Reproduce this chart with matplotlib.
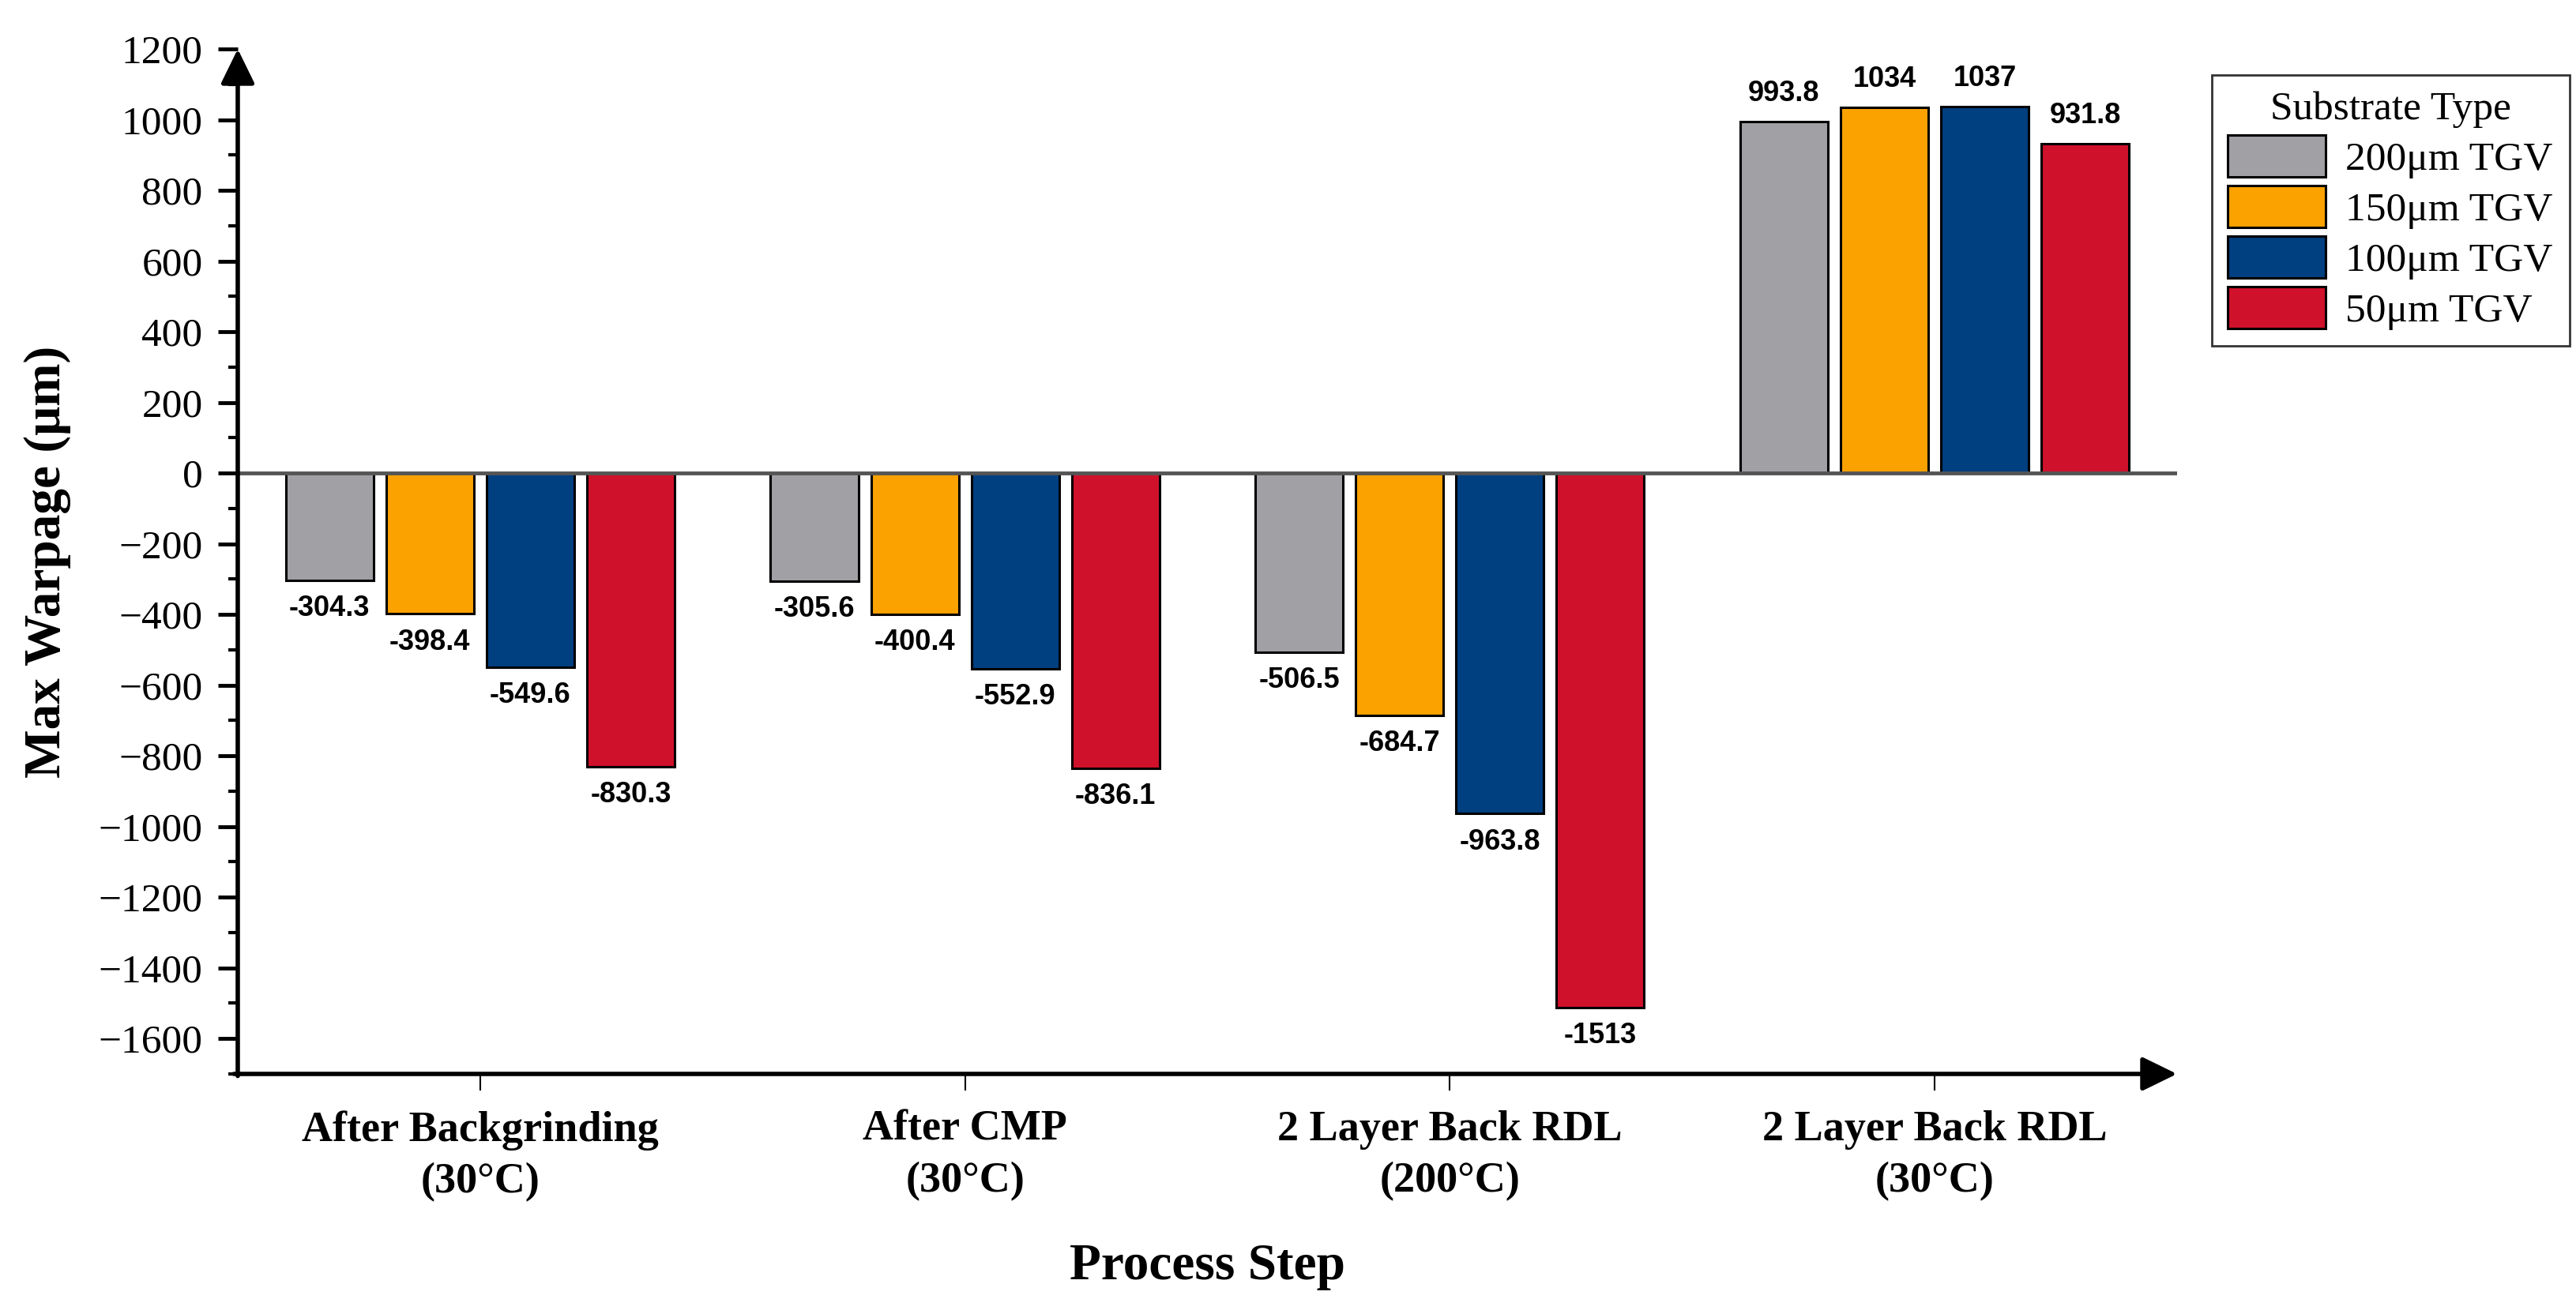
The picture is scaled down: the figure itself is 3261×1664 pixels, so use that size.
import numpy as np
import matplotlib
matplotlib.use('Agg')
from matplotlib import pyplot as plt
from matplotlib.ticker import MultipleLocator

# data
steps = ['After Backgrinding\n(30°C)', 'After CMP\n(30°C)',
         '2 Layer Back RDL\n(200°C)', '2 Layer Back RDL\n(30°C)']
substrates = ['200μm TGV', '150μm TGV', '100μm TGV', '50μm TGV']
tgv200 = [-304.3, -305.6, -506.5, 993.8]
tgv150 = [-398.4, -400.4, -684.7, 1034]
tgv100 = [-549.6, -552.9, -963.8, 1037]
tgv50 = [-830.3, -836.1, -1513, 931.8]
colors = ['#A1A1A5', '#FBA200', '#003F80', '#D0112B']

plt.rcParams['font.family'] = ['Liberation Serif', 'DejaVu Serif']

fig = plt.figure(figsize=(32.61, 16.64), dpi=100)
ax = fig.add_axes([0.0923, 0.1827, 0.7528, 0.780])

x = np.arange(len(steps))
step = 0.207
width = 0.181
series = [tgv200, tgv150, tgv100, tgv50]
for i, vals in enumerate(series):
    pos = x + (i - 1.5) * step
    ax.bar(pos, vals, width, color=colors[i], edgecolor='black',
           linewidth=2.2, label=substrates[i], zorder=2)
    for xp, v in zip(pos, vals):
        off = 13 if v > 0 else -13
        ax.annotate('{:g}'.format(v), (xp, v), xytext=(0, off),
                    textcoords='offset points', ha='center',
                    va='bottom' if v > 0 else 'top', fontsize=26,
                    fontweight='bold', family='Liberation Sans')

ax.axhline(0, color='#555555', lw=3.5, zorder=3)

ax.set_xlim(-0.5, 3.5)
ax.set_ylim(-1700, 1200)
ax.yaxis.set_major_locator(MultipleLocator(200))
ax.yaxis.set_minor_locator(MultipleLocator(100))
ax.set_xticks(x)
ax.set_xticklabels(steps, fontsize=39, fontweight='bold', linespacing=1.4)
ax.tick_params(axis='x', length=15, width=1.5, pad=18)
ax.tick_params(axis='y', which='major', length=18, width=3.5, labelsize=37, pad=14)
ax.tick_params(axis='y', which='minor', length=9, width=3)
ax.yaxis.get_major_ticks()[-1].tick1line.set_visible(False)
ax.yaxis.set_major_formatter(matplotlib.ticker.FuncFormatter(
    lambda v, p: '{:d}'.format(int(v)).replace('-', '\u2212')))

for s in ax.spines.values():
    s.set_visible(False)
arrow = dict(arrowstyle='-|>,head_length=0.45,head_width=0.22', lw=4,
             color='black', mutation_scale=60, shrinkA=0, shrinkB=0)
ax.annotate('', xy=(0, 1), xytext=(0, -0.002), xycoords='axes fraction',
            arrowprops=arrow, zorder=5)
ax.annotate('', xy=(1, 0), xytext=(-0.002, 0), xycoords='axes fraction',
            arrowprops=arrow, zorder=5)

ax.set_ylabel('Max Warpage (μm)', fontsize=47, fontweight='bold')
ax.yaxis.set_label_coords(-0.086, 0.5)
ax.set_xlabel('Process Step', fontsize=47, fontweight='bold')
ax.xaxis.set_label_coords(0.5, -0.165)

leg = ax.legend(title='Substrate Type', loc='upper left',
                bbox_to_anchor=(0.8586, 0.943), bbox_transform=fig.transFigure,
                fontsize=37, title_fontsize=37, frameon=True, fancybox=False,
                edgecolor='black', handlelength=2.4, handleheight=1.2,
                labelspacing=0.18, handletextpad=0.5, borderpad=0.4,
                borderaxespad=0)
leg.get_frame().set_linewidth(2)

fig.savefig('out.png', dpi=100)
